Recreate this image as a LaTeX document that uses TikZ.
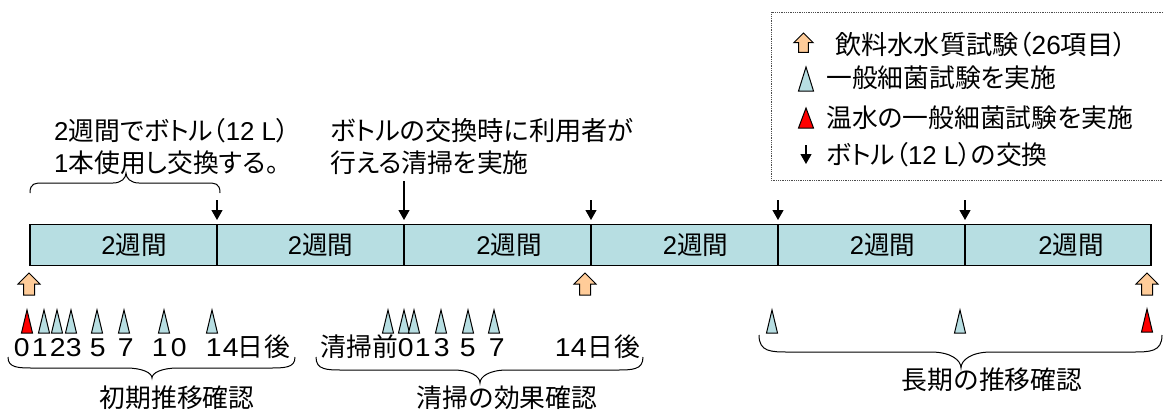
\documentclass[tikz,border=0pt]{standalone}
\usepackage{fontspec}
\usepackage{graphicx}
\setmainfont{Liberation Sans}
\newfontfamily\jpf{Noto Sans CJK JP}
\newfontfamily\jpp[RawFeature=+palt]{Noto Sans CJK JP}
\usetikzlibrary{arrows.meta}
\newcommand{\J}[1]{{\jpf #1}}
\newcommand{\JP}[1]{{\jpp #1}}
\newcommand{\Dg}[1]{\scalebox{1.1}[1]{#1}}
\newcommand{\Pl}[2]{\rlap{\hskip #1pt\clap{#2}}}
\newcommand{\SegT}[1]{\hspace*{#1pt}\raisebox{-2.5pt}{2\J{週間}}}
\definecolor{barblue}{HTML}{B7DEE2}
\definecolor{upor}{HTML}{FFCC99}
\newcommand{\UpArr}[3]{\draw[uparr,shift={(#1,#2)},scale=#3] (0,0) -- (11,11) -- (5.5,11) -- (5.5,22) -- (-5.5,22) -- (-5.5,11) -- (-11,11) -- cycle;}
\newcommand{\Tri}[5]{\draw[#1] (#2,#3) -- ({#2+#5},#4) -- ({#2-#5},#4) -- cycle;}
\newcommand{\Brace}[7]{\draw[bracel] (#1,#3) .. controls (#1,#4) and ({#1+#6*0.4},#4) .. ({#1+#6},#4) -- ({#7-#6},#4) .. controls ({#7-#6*0.35},#4) and (#7,{(#4+#5)/2}) .. (#7,#5) .. controls (#7,{(#4+#5)/2}) and ({#7+#6*0.35},#4) .. ({#7+#6},#4) -- ({#2-#6},#4) .. controls ({#2-#6*0.4},#4) and (#2,#4) .. (#2,#3);}
\tikzset{
  seg/.style={draw=black,line width=1.2pt,fill=barblue,minimum width=187pt,minimum height=41pt,inner sep=0pt,font=\fontsize{25.6}{28}\selectfont},
  txt/.style={inner sep=0pt,font=\fontsize{25.8}{32}\selectfont,align=left},
  uparr/.style={draw=black,line width=1pt,fill=upor},
  bluetri/.style={draw=black,line width=1pt,fill=barblue},
  redtri/.style={draw=black,line width=1pt,fill=red},
  swaparr/.style={draw=black,line width=1.2pt,-{Triangle[length=10pt,width=11pt]}},
  bracel/.style={draw=black,line width=1pt},
  legendbox/.style={draw=black!70,densely dotted,line width=0.8pt}
}
\begin{document}
\begin{tikzpicture}[x=1pt,y=-1pt]
\useasboundingbox (0,0) rectangle (1164,410);
% bar
\node[seg] (s1) at (123.5,245) {\SegT{21}};
\node[seg] (s2) at (310.5,245) {\SegT{20}};
\node[seg] (s3) at (497.5,245) {\SegT{23}};
\node[seg] (s4) at (684.5,245) {\SegT{22}};
\node[seg] (s5) at (871.5,245) {\SegT{22}};
\node[seg,minimum width=186pt] (s6) at (1058,245) {\SegT{26}};
% bottle arrows
\coordinate (a1) at (217,200);
\coordinate (a2) at (404,181);
\coordinate (a3) at (591,200);
\coordinate (a4) at (778,200);
\coordinate (a5) at (965,200);
\coordinate (a1e) at (217,220);
\coordinate (a2e) at (404,220);
\coordinate (a3e) at (591,220);
\coordinate (a4e) at (778,220);
\coordinate (a5e) at (965,220);
\draw[swaparr] (a1) -- (a1e);
\draw[swaparr] (a2) -- (a2e);
\draw[swaparr] (a3) -- (a3e);
\draw[swaparr] (a4) -- (a4e);
\draw[swaparr] (a5) -- (a5e);
% water quality arrows
\UpArr{29}{273}{1}
\UpArr{585}{273}{1}
\UpArr{1147}{273}{1}
% triangles
\Tri{redtri}{27}{310}{333}{5.5}
\Tri{bluetri}{44}{310}{333}{5.5}
\Tri{bluetri}{57}{310}{333}{5.5}
\Tri{bluetri}{71}{310}{333}{5.5}
\Tri{bluetri}{97}{310}{333}{5.5}
\Tri{bluetri}{124}{310}{333}{5.5}
\Tri{bluetri}{164}{310}{333}{5.5}
\Tri{bluetri}{212}{310}{333}{5.5}
\Tri{bluetri}{388}{310}{333}{5.5}
\Tri{bluetri}{404}{310}{333}{5.5}
\Tri{bluetri}{414}{310}{333}{5.5}
\Tri{bluetri}{441}{310}{333}{5.5}
\Tri{bluetri}{468}{310}{333}{5.5}
\Tri{bluetri}{494}{310}{333}{5.5}
\Tri{bluetri}{772}{310}{333}{5.5}
\Tri{bluetri}{960}{310}{333}{5.5}
\Tri{redtri}{1147}{309}{332}{5.5}
% day rows
\node[txt,anchor=base west] (r1) at (0,356) {\Pl{21}{\Dg{0}}\Pl{39}{\Dg{1}}\Pl{57}{\Dg{2}}\Pl{73}{\Dg{3}}\Pl{97}{\Dg{5}}\Pl{125}{\Dg{7}}\Pl{159}{\Dg{1}}\Pl{178}{\Dg{0}}\Pl{213}{\Dg{1}}\Pl{230}{\Dg{4}}\Pl{250}{\J{日}}\Pl{277}{\J{後}}};
\node[txt,anchor=base west] (r2) at (0,356) {\Pl{333}{\J{清}}\Pl{359}{\J{掃}}\Pl{385}{\J{前}}\Pl{405}{\Dg{0}}\Pl{422}{\Dg{1}}\Pl{441}{\Dg{3}}\Pl{467}{\Dg{5}}\Pl{496}{\Dg{7}}\Pl{562}{\Dg{1}}\Pl{578}{\Dg{4}}\Pl{600}{\J{日}}\Pl{627}{\J{後}}};
% braces
\Brace{8}{295}{357}{368}{378}{26}{152}
\Brace{316}{643}{357}{370}{383}{27}{480}
\Brace{759}{1162}{335}{352}{368}{30}{961}
\Brace{30}{220}{193}{183}{173}{13}{126}
% labels
\node[txt] (l1) at (177,398) {\J{初期推移確認}};
\node[txt] (l2) at (507,398) {\J{清掃の効果確認}};
\node[txt] (l3) at (992,380) {\J{長期の推移確認}};
\node[txt,anchor=base west] (t1a) at (54,140) {2\JP{週間でボトル（}12 L\JP{）}};
\node[txt,anchor=base west] (t1b) at (54,172) {1\JP{本使用し交換する。}};
\node[txt,anchor=base west,font=\fontsize{26.2}{32}\selectfont] (t2a) at (330,140) {\JP{ボトルの交換時に利用者が}};
\node[txt,anchor=base west] (t2b) at (330,172) {\JP{行える清掃を実施}};
% legend
\draw[legendbox] (1163,12) -- (771,12) -- (771,180) -- (1163,180);
\UpArr{803.5}{33}{0.88}
\Tri{bluetri}{806}{67}{91}{7.5}
\Tri{redtri}{806}{108}{128}{7.5}
\coordinate (k1) at (806,145);
\coordinate (k1e) at (806,164);
\draw[swaparr] (k1) -- (k1e);
\node[txt,anchor=base west,font=\fontsize{26.2}{32}\selectfont] (k2) at (835,54) {\JP{飲料水水質試験（}26\JP{項目）}};
\node[txt,anchor=base west] (k3) at (826,87) {\JP{一般細菌試験を実施}};
\node[txt,anchor=base west] (k4) at (826,127) {\JP{温水の一般細菌試験を実施}};
\node[txt,anchor=base west] (k5) at (826,164.5) {\JP{ボトル（}12 L\JP{）の交換}};
\end{tikzpicture}
\end{document}
